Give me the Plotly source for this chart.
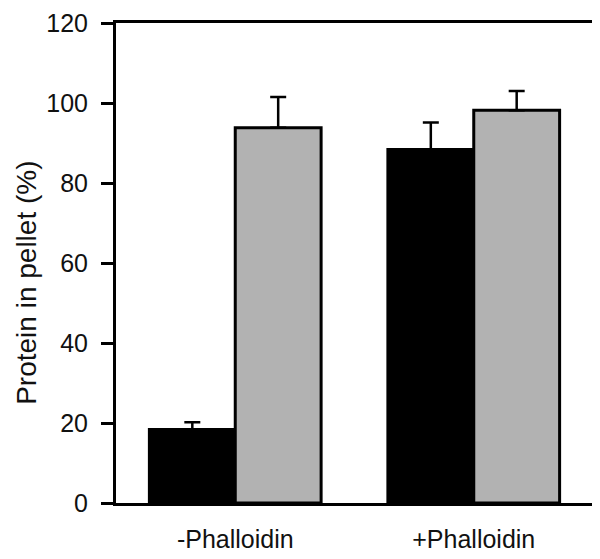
import plotly.graph_objects as go

categories = ["-Phalloidin", "+Phalloidin"]
black_values = [18.4, 88.4]
black_errors = [1.8, 6.7]
gray_values = [93.8, 98.2]
gray_errors = [7.7, 4.8]
y_ticks = [0, 20, 40, 60, 80, 100, 120]

FONT = "Liberation Sans, Arial, sans-serif"

fig = go.Figure()
fig.add_trace(go.Bar(
    x=categories, y=black_values, name="black",
    marker=dict(color="#000000", line=dict(color="#000000", width=3)),
    error_y=dict(type="data", array=black_errors, arrayminus=[0, 0],
                 symmetric=False, color="#000000", thickness=2.5, width=8),
))
fig.add_trace(go.Bar(
    x=categories, y=gray_values, name="gray",
    marker=dict(color="#b2b2b2", line=dict(color="#000000", width=3)),
    error_y=dict(type="data", array=gray_errors, arrayminus=[0, 0],
                 symmetric=False, color="#000000", thickness=2.5, width=8),
))

# page body has an 8px default margin, so the figure is sized/shifted for it
fig.update_layout(
    template="none",
    width=592, height=551,
    margin=dict(l=108, r=7, t=15, b=56),
    paper_bgcolor="white", plot_bgcolor="white",
    barmode="group", bargap=0.28, bargroupgap=0,
    showlegend=False,
    font=dict(family=FONT, color="#111111"),
    xaxis=dict(
        range=[-0.5, 1.5], showline=True, linecolor="#000000", linewidth=3,
        mirror=True, ticks="", showgrid=False, zeroline=False, automargin=False,
        tickfont=dict(size=25, family=FONT, color="#111111"),
        ticklabelstandoff=12,
    ),
    yaxis=dict(
        range=[0, 120], tickvals=y_ticks, showline=True, linecolor="#000000",
        linewidth=3, mirror=True, ticks="outside", ticklen=12, tickwidth=3,
        tickcolor="#000000", showgrid=False, zeroline=False, automargin=False,
        tickfont=dict(size=25, family=FONT, color="#111111"),
        ticklabelstandoff=8,
    ),
    annotations=[dict(
        text="Protein in pellet (%)", textangle=-90,
        xref="paper", yref="paper", x=-0.224, y=0.458,
        xanchor="left", yanchor="middle", showarrow=False,
        font=dict(size=28, family=FONT, color="#111111"),
    )],
)

fig.write_html("out.html")
